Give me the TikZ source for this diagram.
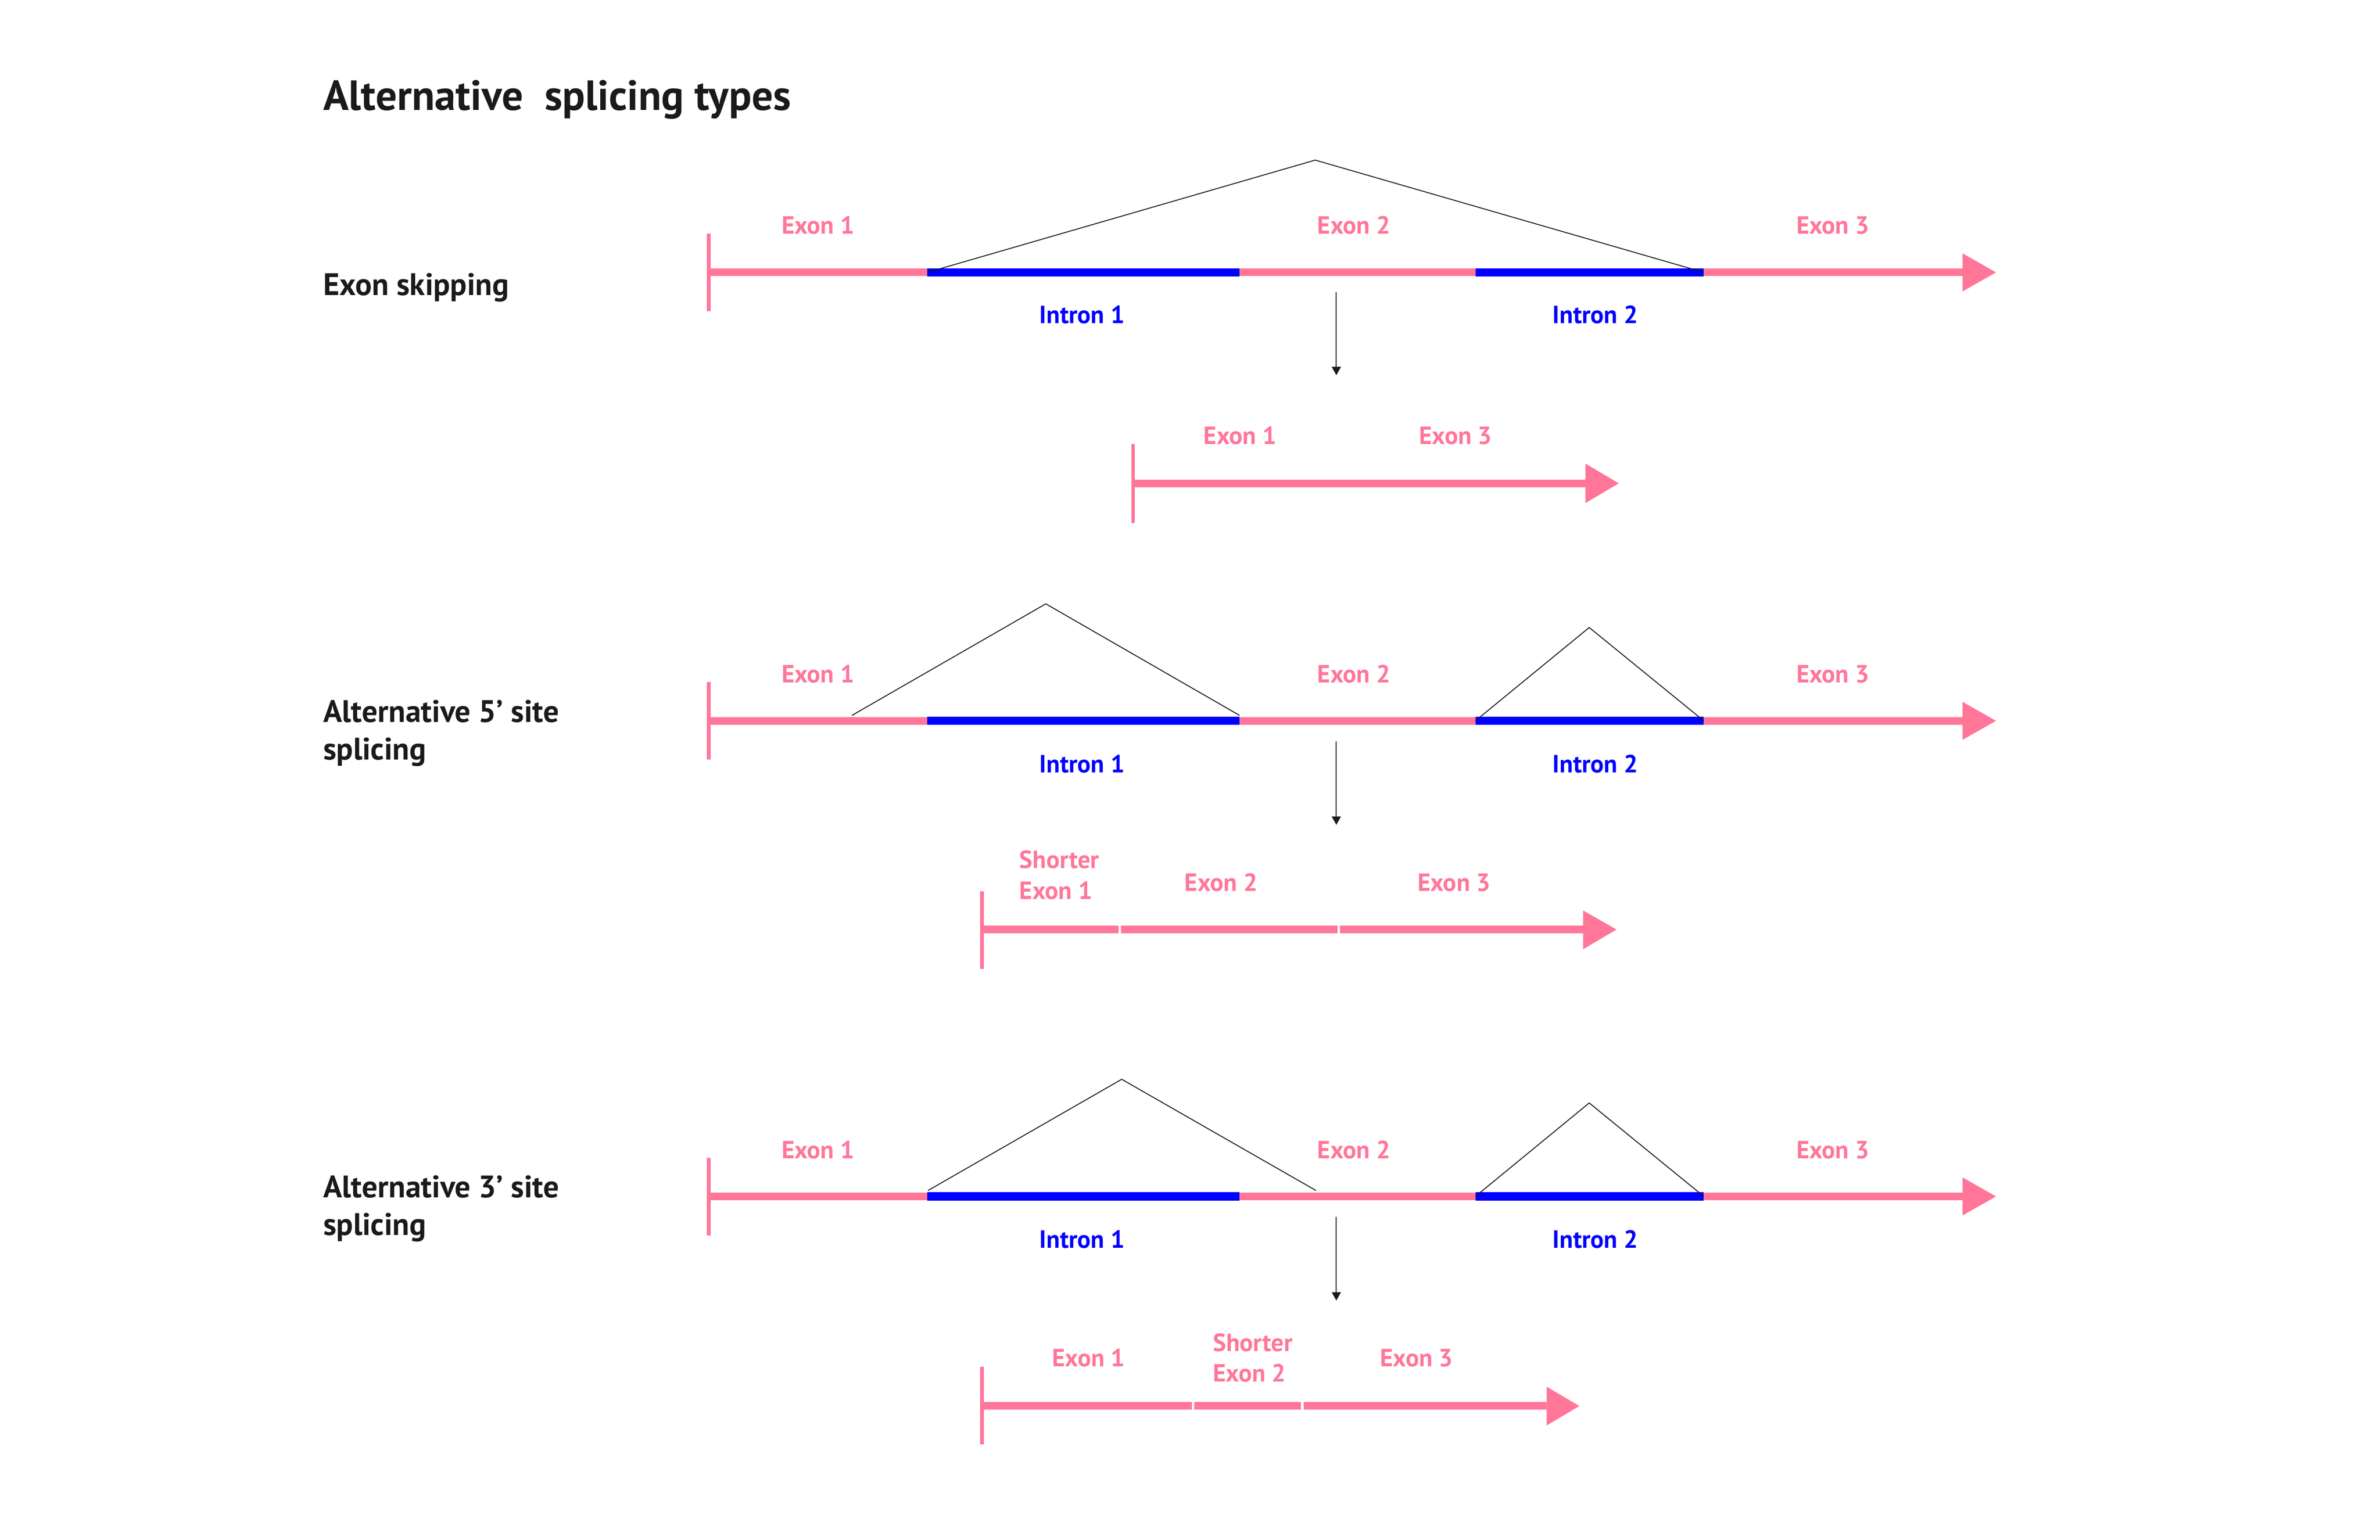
\documentclass[tikz,border=0pt]{standalone}
\usepackage{fontspec}
\setmainfont{PT Sans}
\usetikzlibrary{arrows.meta}
\definecolor{exonpink}{RGB}{255,118,153}
\definecolor{intronblue}{RGB}{0,0,255}
\definecolor{textblack}{RGB}{26,26,26}
\tikzset{
  exonline/.style={draw=exonpink, line width=5pt},
  intronline/.style={draw=intronblue, line width=5.4pt},
  tickline/.style={draw=exonpink, line width=2.4pt},
  headfill/.style={fill=exonpink},
  gapline/.style={draw=white, line width=1.6pt},
  splice/.style={draw=textblack, line width=0.6pt, line join=miter},
  downarrow/.style={draw=textblack, line width=0.6pt, -{Triangle[length=5.5pt,width=6pt]}},
  exonlbl/.style={text=exonpink, font=\bfseries\fontsize{16.4}{20.3}\selectfont, inner sep=0pt, anchor=base},
  intronlbl/.style={text=intronblue, font=\bfseries\fontsize{16.4}{20.3}\selectfont, inner sep=0pt, anchor=base},
  rowlbl/.style={text=textblack, font=\bfseries\fontsize{20.5}{24.8}\selectfont, inner sep=0pt, anchor=base west, align=left},
  titlelbl/.style={text=textblack, font=\bfseries\fontsize{27.8}{32}\selectfont, inner sep=0pt, anchor=base west}
}
\begin{document}
\begin{tikzpicture}[x=1pt,y=-1pt]
\useasboundingbox (0,0) rectangle (1568,1014.6);
% title
\node[titlelbl] (title) at (212.8,72.6) {Alternative \ splicing types};

% ===== Row 1: exon skipping =====
\node[rowlbl] (lbl1) at (212.8,194.5) {Exon skipping};
\coordinate (a1s) at (467,179.5);
\coordinate (a1i1s) at (611,179.5);
\coordinate (a1i1e) at (816.5,179.5);
\coordinate (a1i2s) at (972,179.5);
\coordinate (a1i2e) at (1122.5,179.5);
\coordinate (a1h) at (1293,179.5);
\draw[exonline] (a1s) -- (a1h);
\draw[intronline] (a1i1s) -- (a1i1e);
\draw[intronline] (a1i2s) -- (a1i2e);
\draw[tickline] (467,154) -- (467,205);
\fill[headfill] (1293,167) -- (1315,179.5) -- (1293,192) -- cycle;
\coordinate (a1top) at (866.5,105.5);
\draw[splice] (a1i1s) -- (a1top) -- (a1i2e);
\node[exonlbl] (a1e1) at (539,154) {Exon 1};
\node[exonlbl] (a1e2) at (892,154) {Exon 2};
\node[exonlbl] (a1e3) at (1207.5,154) {Exon 3};
\node[intronlbl] (a1n1) at (713,213) {Intron 1};
\node[intronlbl] (a1n2) at (1051,213) {Intron 2};
\coordinate (d1s) at (880.4,192.5);
\coordinate (d1e) at (880.4,247.2);
\draw[downarrow] (d1s) -- (d1e);
% product 1
\coordinate (p1s) at (746.5,318.5);
\coordinate (p1h) at (1044.5,318.5);
\draw[exonline] (p1s) -- (p1h);
\draw[tickline] (746.5,292.7) -- (746.5,344.7);
\fill[headfill] (1044.5,305.5) -- (1066.5,318.5) -- (1044.5,331.5) -- cycle;
\node[exonlbl] (p1e1) at (817,292.6) {Exon 1};
\node[exonlbl] (p1e3) at (959,292.6) {Exon 3};

% ===== Row 2: alternative 5' =====
\node[rowlbl] (lbl2) at (212.8,500.8) {Alternative 5’ site\\splicing};
\coordinate (a2s) at (467,475);
\coordinate (a2i1s) at (611,475);
\coordinate (a2i1e) at (816.5,475);
\coordinate (a2i2s) at (972,475);
\coordinate (a2i2e) at (1122.5,475);
\coordinate (a2h) at (1293,475);
\draw[exonline] (a2s) -- (a2h);
\draw[intronline] (a2i1s) -- (a2i1e);
\draw[intronline] (a2i2s) -- (a2i2e);
\draw[tickline] (467,449.5) -- (467,500.5);
\fill[headfill] (1293,462.5) -- (1315,475) -- (1293,487.5) -- cycle;
\coordinate (a2alt) at (561.3,471.4);
\coordinate (a2top1) at (689,397.9);
\coordinate (a2end1) at (816.6,471.4);
\draw[splice] (a2alt) -- (a2top1) -- (a2end1);
\coordinate (a2top2) at (1047,413.5);
\draw[splice] (a2i2s) -- (a2top2) -- (a2i2e);
\node[exonlbl] (a2e1) at (539,450) {Exon 1};
\node[exonlbl] (a2e2) at (892,450) {Exon 2};
\node[exonlbl] (a2e3) at (1207.5,450) {Exon 3};
\node[intronlbl] (a2n1) at (713,509) {Intron 1};
\node[intronlbl] (a2n2) at (1051,509) {Intron 2};
\coordinate (d2s) at (880.4,488.5);
\coordinate (d2e) at (880.4,543.5);
\draw[downarrow] (d2s) -- (d2e);
% product 2
\coordinate (p2s) at (647,612.5);
\coordinate (p2h) at (1043,612.5);
\draw[exonline] (p2s) -- (p2h);
\draw[gapline] (737.6,609) -- (737.6,616);
\draw[gapline] (882,609) -- (882,616);
\draw[tickline] (647,587.3) -- (647,638.4);
\fill[headfill] (1043,600) -- (1065,612.5) -- (1043,625.5) -- cycle;
\node[exonlbl, anchor=base west, align=left] (p2e1) at (671.5,592.4) {Shorter\\Exon 1};
\node[exonlbl] (p2e2) at (804.5,587.2) {Exon 2};
\node[exonlbl] (p2e3) at (958,587.2) {Exon 3};

% ===== Row 3: alternative 3' =====
\node[rowlbl] (lbl3) at (212.8,814) {Alternative 3’ site\\splicing};
\coordinate (a3s) at (467,788.4);
\coordinate (a3i1s) at (611,788.4);
\coordinate (a3i1e) at (816.5,788.4);
\coordinate (a3i2s) at (972,788.4);
\coordinate (a3i2e) at (1122.5,788.4);
\coordinate (a3h) at (1293,788.4);
\draw[exonline] (a3s) -- (a3h);
\draw[intronline] (a3i1s) -- (a3i1e);
\draw[intronline] (a3i2s) -- (a3i2e);
\draw[tickline] (467,763) -- (467,814.2);
\fill[headfill] (1293,775.9) -- (1315,788.4) -- (1293,800.9) -- cycle;
\coordinate (a3st1) at (611.4,784.5);
\coordinate (a3top1) at (739,711.2);
\coordinate (a3alt) at (867,784.5);
\draw[splice] (a3st1) -- (a3top1) -- (a3alt);
\coordinate (a3top2) at (1047,726.8);
\draw[splice] (a3i2s) -- (a3top2) -- (a3i2e);
\node[exonlbl] (a3e1) at (539,763.4) {Exon 1};
\node[exonlbl] (a3e2) at (892,763.4) {Exon 2};
\node[exonlbl] (a3e3) at (1207.5,763.4) {Exon 3};
\node[intronlbl] (a3n1) at (713,822.4) {Intron 1};
\node[intronlbl] (a3n2) at (1051,822.4) {Intron 2};
\coordinate (d3s) at (880.4,802);
\coordinate (d3e) at (880.4,857);
\draw[downarrow] (d3s) -- (d3e);
% product 3
\coordinate (p3s) at (647,926.5);
\coordinate (p3h) at (1019,926.5);
\draw[exonline] (p3s) -- (p3h);
\draw[gapline] (786,923) -- (786,930);
\draw[gapline] (858,923) -- (858,930);
\draw[tickline] (647,900.5) -- (647,951.7);
\fill[headfill] (1019,913.8) -- (1040.5,926.5) -- (1019,939.3) -- cycle;
\node[exonlbl] (p3e1) at (717.2,900.5) {Exon 1};
\node[exonlbl, anchor=base west, align=left] (p3e2) at (799,910.6) {Shorter\\Exon 2};
\node[exonlbl] (p3e3) at (933.3,900.5) {Exon 3};
\end{tikzpicture}
\end{document}
